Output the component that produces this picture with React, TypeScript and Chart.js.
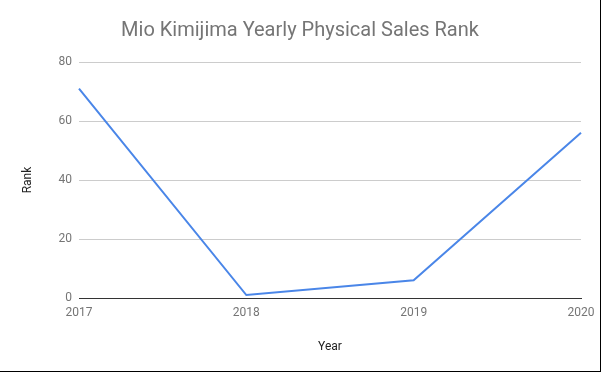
import React, { useEffect, useRef } from "react";
import { Chart, registerables } from "chart.js";

Chart.register(...registerables);

const years = ["2017", "2018", "2019", "2020"];
const ranks = [71, 1, 6, 56];
const yTicks = [0, 20, 40, 60, 80];
const titleText = "Mio Kimijima Yearly Physical Sales Rank";

export default function App() {
  const ref = useRef<HTMLCanvasElement | null>(null);

  useEffect(() => {
    document.body.style.margin = "0";
    const canvas = ref.current;
    if (!canvas) return;
    const chart = new Chart(canvas, {
      type: "line",
      data: {
        labels: years,
        datasets: [
          {
            label: "Rank",
            data: ranks,
            borderColor: "#4a86e8",
            backgroundColor: "#4a86e8",
            borderWidth: 2,
            pointRadius: 0,
            tension: 0,
          },
        ],
      },
      options: {
        responsive: false,
        animation: false,
        layout: { padding: 0 },
        plugins: {
          legend: { display: false },
          tooltip: { enabled: false },
          title: {
            display: true,
            text: titleText,
            color: "#757575",
            font: { family: "Roboto", size: 20, weight: "normal" },
            padding: { top: 19, bottom: 19 },
          },
        },
        scales: {
          x: {
            offset: false,
            grid: { display: false, drawTicks: false },
            border: { display: true, color: "#333333", width: 1 },
            ticks: {
              color: "#757575",
              font: { family: "Roboto", size: 12 },
              padding: 8,
              maxRotation: 0,
            },
            title: {
              display: true,
              text: "Year",
              color: "#222222",
              font: { family: "Roboto", size: 12 },
              padding: { top: 0, bottom: 17 },
            },
            afterFit: (scale: any) => {
              scale.height = 73;
              scale.paddingRight = 19;
            },
          },
          y: {
            min: 0,
            max: 80,
            afterBuildTicks: (scale: any) => {
              scale.ticks = yTicks.map((v) => ({ value: v }));
            },
            grid: { color: "#cccccc", drawTicks: false, lineWidth: 1 },
            border: { display: false },
            ticks: {
              color: "#757575",
              font: { family: "Roboto", size: 12 },
              padding: 7,
            },
            title: {
              display: true,
              text: "Rank",
              color: "#222222",
              font: { family: "Roboto", size: 12 },
              padding: { top: 21, bottom: 0 },
            },
            afterFit: (scale: any) => {
              scale.width = 79;
            },
          },
        },
      },
    });
    return () => chart.destroy();
  }, []);

  return (
    <div
      style={{
        width: 601,
        height: 372,
        boxSizing: "border-box",
        borderRight: "1px solid #000",
        borderBottom: "1px solid #000",
        background: "#fff",
      }}
    >
      <canvas ref={ref} width={600} height={371} style={{ display: "block" }} />
    </div>
  );
}
